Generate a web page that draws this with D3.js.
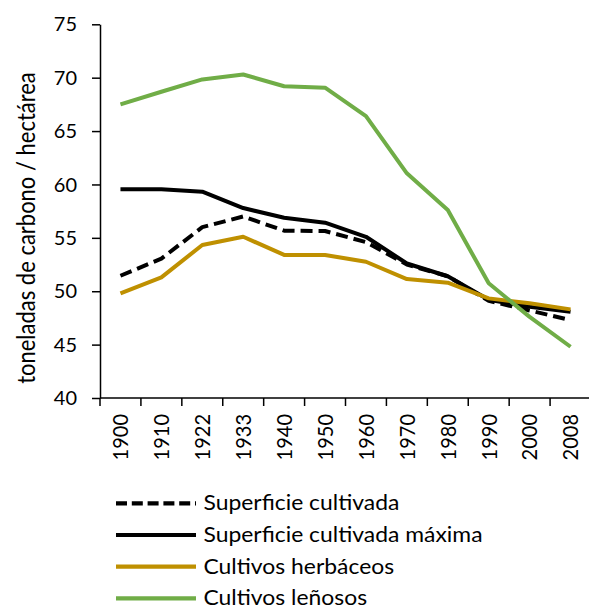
<!DOCTYPE html>
<html><head><meta charset="utf-8">
<script src="https://cdn.jsdelivr.net/npm/d3@7/dist/d3.min.js"></script>
<style>body{margin:0;background:#fff}svg{display:block}text{font-family:Lato,"Carlito",sans-serif;fill:#000}</style>
</head><body><svg id="c" width="589" height="607"></svg>
<script>
const years = ["1900","1910","1922","1933","1940","1950","1960","1970","1980","1990","2000","2008"];
const superficieCultivada = [51.45,53.05,56.0,57.0,55.67,55.64,54.6,52.5,51.4,49.1,48.2,47.3];
const superficieMaxima = [59.54,59.54,59.32,57.79,56.88,56.42,55.1,52.6,51.4,49.2,48.55,48.08];
const herbaceos = [49.8,51.3,54.33,55.1,53.4,53.4,52.76,51.14,50.8,49.33,48.87,48.3];
const lenosos = [67.5,68.68,69.84,70.3,69.2,69.06,66.4,61.04,57.6,50.74,47.6,44.8];
const yTicks = [40,45,50,55,60,65,70,75];
const yTitle = "toneladas de carbono / hectárea";
const seriesNames = ["Superficie cultivada","Superficie cultivada máxima","Cultivos herbáceos","Cultivos leñosos"];

const series = [
  {name: seriesNames[0], values: superficieCultivada, color: "#000", dash: "12,6"},
  {name: seriesNames[1], values: superficieMaxima, color: "#000", dash: null},
  {name: seriesNames[2], values: herbaceos, color: "#bf9000", dash: null},
  {name: seriesNames[3], values: lenosos, color: "#70ad47", dash: null}
];

const SX = 1.1; // horizontal widening of glyphs to match reference

const svg = d3.select("#c");
const x = d3.scaleBand().domain(years).range([100, 591]);
const y = d3.scaleLinear().domain([40, 75]).range([398, 24.3]);

// y axis
const ya = svg.append("g").attr("transform","translate(100,0)")
  .call(d3.axisLeft(y).tickValues(yTicks).tickSize(8).tickPadding(6).tickSizeOuter(0));
ya.select(".domain").attr("stroke","#000").attr("stroke-width",1.5);
ya.selectAll(".tick line").attr("stroke","#000").attr("stroke-width",1.5);
ya.selectAll(".tick text").attr("x",null).attr("dy",null)
  .attr("transform","translate(-23,6.6) scale(1.08,1)")
  .style("font-size","18.5px").style("font-family","Lato");

// x axis with ticks at band boundaries
const xa = svg.append("g").attr("transform","translate(0,398)");
xa.append("line").attr("x1",100).attr("x2",591).attr("y1",0).attr("y2",0).attr("stroke","#000").attr("stroke-width",1.5);
const bounds = years.map(d => x(d)).concat([x(years[years.length-1]) + x.bandwidth()]);
xa.selectAll("line.t").data(bounds).enter().append("line").attr("class","t")
  .attr("x1",d=>d).attr("x2",d=>d).attr("y1",0).attr("y2",8).attr("stroke","#000").attr("stroke-width",1.5);
xa.selectAll("text").data(years).enter().append("text")
  .attr("transform", d => `translate(${x(d)+x.bandwidth()/2 + 7.8},16) scale(${SX},1) rotate(-90)`)
  .attr("text-anchor","end").style("font-size","20px").text(d=>d);

// y title
svg.append("text").attr("transform",`translate(35,228) scale(${SX},1) rotate(-90)`)
  .attr("text-anchor","middle").style("font-size","22px").text(yTitle);

// lines
const line = d3.line().x((d,i)=>x(years[i])+x.bandwidth()/2).y(d=>y(d));
svg.append("g").selectAll("path").data(series).enter().append("path")
  .attr("d", d=>line(d.values)).attr("fill","none")
  .attr("stroke", d=>d.color).attr("stroke-width",4)
  .attr("stroke-dasharray", d=>d.dash).attr("stroke-linejoin","round");

// legend
const lg = svg.append("g");
const rows = lg.selectAll("g").data(series).enter().append("g")
  .attr("transform",(d,i)=>`translate(0,${503.3 + i*31.7})`);
rows.append("line").attr("x1",116).attr("x2",196).attr("y1",0).attr("y2",0)
  .attr("stroke",d=>d.color).attr("stroke-width",4.2).attr("stroke-dasharray",d=>d.dash ? "11,4.8" : null);
rows.append("text").attr("transform","translate(203.5,7) scale(1.09,1)").style("font-size","21px").text(d=>d.name);
</script></body></html>
